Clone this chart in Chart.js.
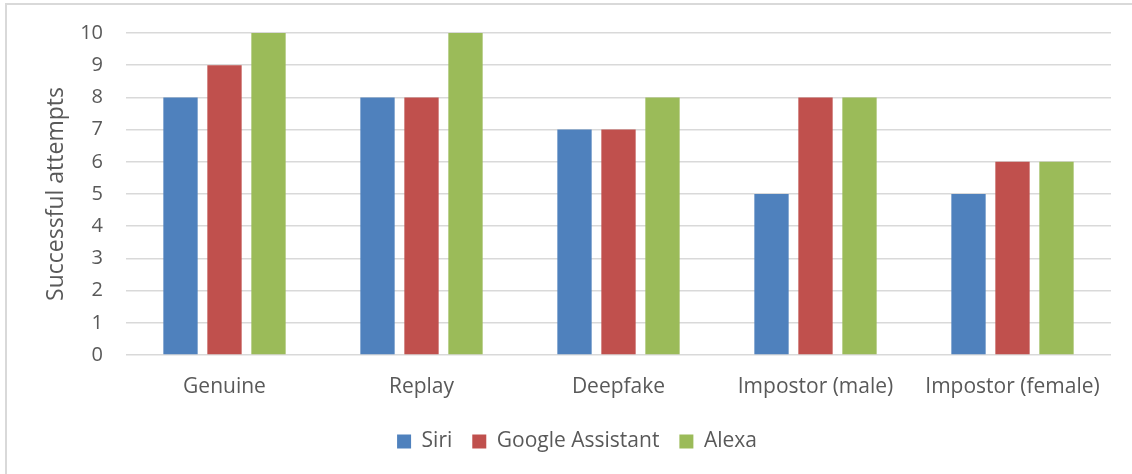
<!DOCTYPE html>
<html>
<head>
<meta charset="utf-8">
<script src="https://cdn.jsdelivr.net/npm/chart.js@4"></script>
<style>
  html, body { margin: 0; padding: 0; background: #fff; overflow: hidden; width: 1132px; height: 474px; }
  #frame { position: absolute; left: 5px; top: 3px; width: 1160px; height: 500px; border-left: 2px solid #d9d9d9; border-top: 2px solid #d9d9d9; }
  #wrap { position: absolute; left: 7px; top: 5px; width: 1140px; height: 475px; }
</style>
</head>
<body>
<div id="frame"></div>
<div id="wrap"><canvas id="c"></canvas></div>
<script>
const categories = ["Genuine", "Replay", "Deepfake", "Impostor (male)", "Impostor (female)"];
const siri = [8, 8, 7, 5, 5];
const googleAssistant = [9, 8, 7, 8, 6];
const alexa = [10, 10, 8, 8, 6];
const seriesNames = ["Siri", "Google Assistant", "Alexa"];
const yTitle = "Successful attempts";

const FONT = "'Open Sans', Lato, sans-serif";
const TXT = "#595959";

new Chart(document.getElementById('c'), {
  type: 'bar',
  data: {
    labels: categories,
    datasets: [
      { label: seriesNames[0], data: siri, backgroundColor: '#4F81BD' },
      { label: seriesNames[1], data: googleAssistant, backgroundColor: '#C0504D' },
      { label: seriesNames[2], data: alexa, backgroundColor: '#9BBB59' }
    ]
  },
  options: {
    responsive: true,
    maintainAspectRatio: false,
    animation: false,
    datasets: { bar: { categoryPercentage: 0.67, barPercentage: 0.78 } },
    layout: { padding: { left: 36, right: 36, top: 28, bottom: 18 } },
    plugins: {
      legend: {
        position: 'bottom',
        labels: { boxWidth: 14, boxHeight: 14, padding: 20, color: TXT, font: { family: FONT, size: 21 } }
      },
      tooltip: { enabled: false }
    },
    scales: {
      x: {
        grid: { display: false, drawTicks: false },
        border: { display: false },
        ticks: { color: TXT, padding: 19, font: { family: FONT, size: 21 }, maxRotation: 0 },
        afterFit: (s) => { s.height = 56; }
      },
      y: {
        min: 0, max: 10,
        grid: { color: '#d9d9d9', lineWidth: 1.5, drawTicks: true, tickLength: 13, tickColor: 'rgba(0,0,0,0)' },
        border: { display: false },
        ticks: { stepSize: 1, color: TXT, padding: 10, font: { family: FONT, size: 20 } },
        title: { display: true, text: yTitle, color: TXT, padding: { top: 0, bottom: 0 }, font: { family: FONT, size: 23 } },
        afterFit: (s) => { s.width = 83; }
      }
    }
  }
});
</script>
</body>
</html>
